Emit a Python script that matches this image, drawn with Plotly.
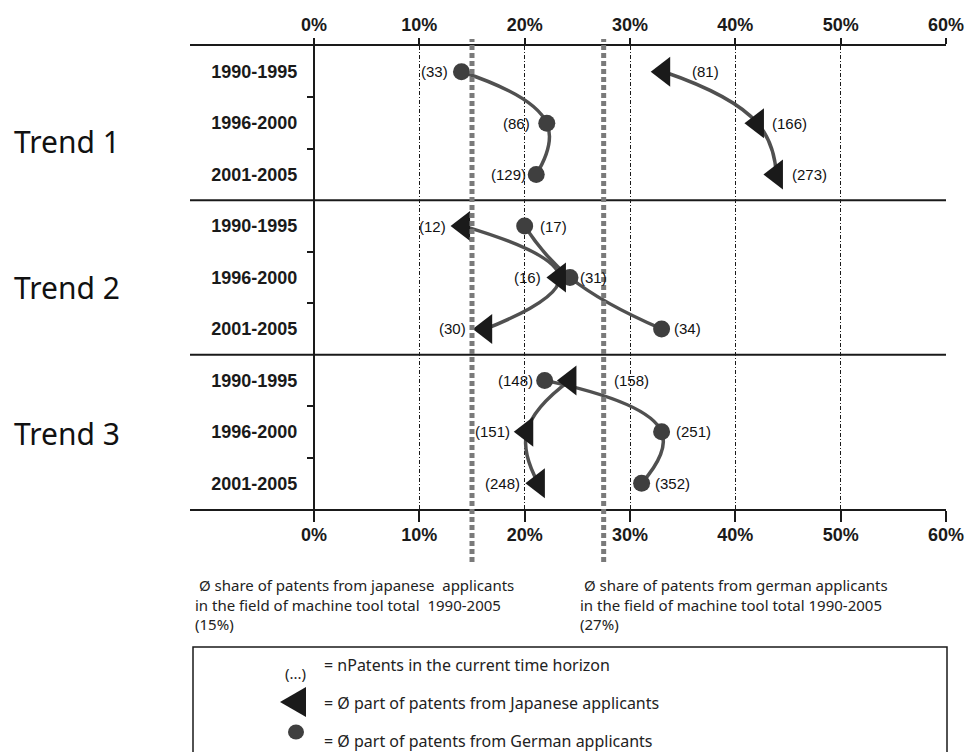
import plotly.graph_objects as go

# ---------------- data ----------------
periods = ["1990-1995", "1996-2000", "2001-2005"]
trend_names = ["Trend 1", "Trend 2", "Trend 3"]

# average share (%) of patents from Japanese applicants, per period
jp_share_t1 = [33.2, 42.1, 43.9]
jp_share_t2 = [14.2, 23.3, 16.3]
jp_share_t3 = [24.3, 20.2, 21.3]
# number of patents in the time horizon (Japanese)
jp_count_t1 = [81, 166, 273]
jp_count_t2 = [12, 16, 30]
jp_count_t3 = [158, 151, 248]

# average share (%) of patents from German applicants, per period
de_share_t1 = [14.0, 22.1, 21.1]
de_share_t2 = [20.0, 24.3, 33.0]
de_share_t3 = [21.9, 33.0, 31.1]
# number of patents in the time horizon (German)
de_count_t1 = [33, 86, 129]
de_count_t2 = [17, 31, 34]
de_count_t3 = [148, 251, 352]

# overall machine-tool averages 1990-2005 (reference lines)
avg_jp_total = 15
avg_de_total = 27.5

x_ticks = [0, 10, 20, 30, 40, 50, 60]
x_tick_labels = ["0%", "10%", "20%", "30%", "40%", "50%", "60%"]

# ---------------- styling ----------------
jp_shares = [jp_share_t1, jp_share_t2, jp_share_t3]
jp_counts = [jp_count_t1, jp_count_t2, jp_count_t3]
de_shares = [de_share_t1, de_share_t2, de_share_t3]
de_counts = [de_count_t1, de_count_t2, de_count_t3]

# horizontal pixel shift of the "(n)" labels (negative = left of marker)
jp_label_shift = [[26, 13, 14], [-16, -16, -18], [42, -15, -16]]
de_label_shift = [[-11, -15, -8], [13, 8, 10], [-10, 12, 11]]

W, H = 969, 752
L, R, T, B = 190, 23, 46, 243
PW, PH = W - L - R, H - T - B
X_MAX = 60
X_MIN = -(314 - L) / ((L + PW - 314) / X_MAX)


def px_x(px):
    return (px - L) / PW


def px_y(py):
    return (T + PH - py) / PH


LINE_COL = "#505050"
DE_COL = "#3f3f3f"
JP_COL = "#1a1a1a"
LABEL_FONT = dict(family="Liberation Sans, Arial, sans-serif", size=15, color="#111111")
NOTE_FONT = dict(family="Noto Sans, Open Sans, sans-serif", size=15, color="#222222")
LEG_FONT = dict(family="Noto Sans, Open Sans, sans-serif", size=16, color="#222222")
TICK_FONT = dict(family="Liberation Sans, Arial, sans-serif", size=18, color="#1a1a1a", weight="bold")

fig = go.Figure()
n_per = len(periods)
rows_all = []
annotations = []

# lines first
for t in range(len(trend_names)):
    rows = [t * n_per + p for p in range(n_per)]
    rows_all += rows
    for xs in (de_shares[t], jp_shares[t]):
        fig.add_trace(go.Scatter(
            x=xs, y=rows, mode="lines",
            line=dict(color=LINE_COL, width=3.5, shape="spline", smoothing=1.3),
            hoverinfo="skip", showlegend=False))

# German circles
for t in range(len(trend_names)):
    rows = [t * n_per + p for p in range(n_per)]
    fig.add_trace(go.Scatter(
        x=de_shares[t], y=rows, mode="markers",
        marker=dict(symbol="circle", size=17, color=DE_COL, line=dict(width=0)),
        showlegend=False, cliponaxis=False))
    for p in range(n_per):
        s = de_label_shift[t][p]
        annotations.append(dict(
            x=de_shares[t][p], y=rows[p], xref="x", yref="y",
            text=f"({de_counts[t][p]})", showarrow=False,
            xanchor="left" if s > 0 else "right", xshift=s,
            font=LABEL_FONT))

# Japanese triangles
for t in range(len(trend_names)):
    rows = [t * n_per + p for p in range(n_per)]
    fig.add_trace(go.Scatter(
        x=jp_shares[t], y=rows, mode="markers",
        marker=dict(symbol="triangle-left", size=26, color=JP_COL, line=dict(width=0)),
        showlegend=False, cliponaxis=False))
    for p in range(n_per):
        s = jp_label_shift[t][p]
        annotations.append(dict(
            x=jp_shares[t][p], y=rows[p], xref="x", yref="y",
            text=f"({jp_counts[t][p]})", showarrow=False,
            xanchor="left" if s > 0 else "right", xshift=s,
            font=LABEL_FONT))

# dummy trace so the top axis is rendered
fig.add_trace(go.Scatter(x=[0], y=[0], xaxis="x2", yaxis="y", mode="markers",
                         marker=dict(opacity=0), hoverinfo="skip", showlegend=False))

n_rows = len(trend_names) * n_per
y_range = [n_rows - 0.5, -0.5]
y_pos = (0 - X_MIN) / (X_MAX - X_MIN)
minor_vals = [t * n_per + p + 0.5 for t in range(len(trend_names)) for p in range(n_per - 1)]

axis_common = dict(
    range=[X_MIN, X_MAX], tickmode="array", tickvals=x_ticks, ticktext=x_tick_labels,
    zeroline=False, showline=True, linecolor="#1a1a1a", linewidth=2, automargin=False,
    ticks="outside", tickcolor="#1a1a1a", tickfont=TICK_FONT,
)

fig.update_layout(
    width=W, height=H,
    margin=dict(l=L, r=R, t=T, b=B, autoexpand=False),
    paper_bgcolor="white", plot_bgcolor="white",
    showlegend=False,
    xaxis=dict(**axis_common, side="bottom", anchor="y",
               showgrid=True, gridcolor="#1a1a1a", gridwidth=1, griddash="4px,2px,1px,2px",
               ticklen=11, tickwidth=1.5, ticklabelstandoff=-3),
    xaxis2=dict(**axis_common, side="top", anchor="y", overlaying="x", matches="x",
                showgrid=False, ticklen=6, tickwidth=2),
    yaxis=dict(range=y_range, tickmode="array", tickvals=rows_all,
               ticktext=[periods[r % n_per] for r in rows_all],
               anchor="free", position=y_pos, side="left", automargin=False,
               showgrid=False, zeroline=False, showline=True,
               linecolor="#1a1a1a", linewidth=2, ticks="",
               ticklabelstandoff=12, tickfont=TICK_FONT,
               minor=dict(tickmode="array", tickvals=minor_vals, ticks="outside",
                          ticklen=6, tickwidth=2, tickcolor="#1a1a1a", showgrid=False)),
)

shapes = []
# separators between trends
for t in range(1, len(trend_names)):
    yb = t * n_per - 0.5
    shapes.append(dict(type="line", xref="paper", x0=0, x1=1, yref="y", y0=yb, y1=yb,
                       line=dict(color="#1a1a1a", width=2)))
# overall average reference lines
for v in (avg_jp_total, avg_de_total):
    shapes.append(dict(type="line", xref="x", x0=v, x1=v, yref="paper",
                       y0=px_y(562), y1=px_y(39), layer="above",
                       line=dict(color="#7a7a7a", width=5, dash="5px,3px")))
# legend box
shapes.append(dict(type="rect", xref="paper", yref="paper",
                   x0=px_x(193), x1=px_x(947), y0=px_y(647), y1=px_y(770),
                   line=dict(color="#1a1a1a", width=1.5), fillcolor="rgba(0,0,0,0)"))
# legend symbols
shapes.append(dict(type="path", xref="paper", yref="paper",
                   xsizemode="pixel", ysizemode="pixel",
                   xanchor=px_x(293), yanchor=px_y(702),
                   path="M -13 0 L 13 -15 L 13 15 Z",
                   fillcolor=JP_COL, line=dict(width=0)))
shapes.append(dict(type="circle", xref="paper", yref="paper",
                   xsizemode="pixel", ysizemode="pixel",
                   xanchor=px_x(296), yanchor=px_y(732),
                   x0=-8, x1=8, y0=-7.5, y1=7.5,
                   fillcolor=DE_COL, line=dict(width=0)))

# trend labels
trend_label_py = [141, 287, 433]
for name, py in zip(trend_names, trend_label_py):
    annotations.append(dict(x=px_x(12), y=px_y(py), xref="paper", yref="paper",
                            text=name, showarrow=False, xanchor="left", yanchor="middle",
                            font=dict(family="Noto Sans, Open Sans, sans-serif", size=30,
                                      color="#111111")))

# explanation of reference lines
jp_note = ["\u00a0\u00d8 share of patents from japanese\u00a0 applicants",
           "in the field of machine tool total\u00a0 1990-2005",
           f"({avg_jp_total}%)"]
de_note = ["\u00a0\u00d8 share of patents from german applicants",
           "in the field of machine tool total 1990-2005",
           "(27%)"]
for note, px in ((jp_note, 193), (de_note, 578)):
    annotations.append(dict(x=px_x(px), y=px_y(604), xref="paper", yref="paper",
                            showarrow=False, xanchor="left", yanchor="middle", align="left",
                            text="<br>".join(note), font=NOTE_FONT))

# legend texts
annotations.append(dict(x=px_x(295), y=px_y(673), xref="paper", yref="paper",
                        text="(...)", showarrow=False, xanchor="center", yanchor="middle",
                        font=dict(family="Noto Sans, Open Sans, sans-serif", size=15,
                                  color="#222222")))
legend_lines = [("= nPatents in the current time horizon", 665),
                ("= \u00d8 part of patents from Japanese applicants", 703),
                ("= \u00d8 part of patents from German applicants", 741)]
for txt, py in legend_lines:
    annotations.append(dict(x=px_x(322), y=px_y(py), xref="paper", yref="paper",
                            text=txt, showarrow=False, xanchor="left", yanchor="middle",
                            font=LEG_FONT))

fig.update_layout(shapes=shapes, annotations=annotations)

fig.write_html("out.html", config={"displayModeBar": False},
               post_script="document.body.style.margin='0';document.body.style.overflow='hidden';")
